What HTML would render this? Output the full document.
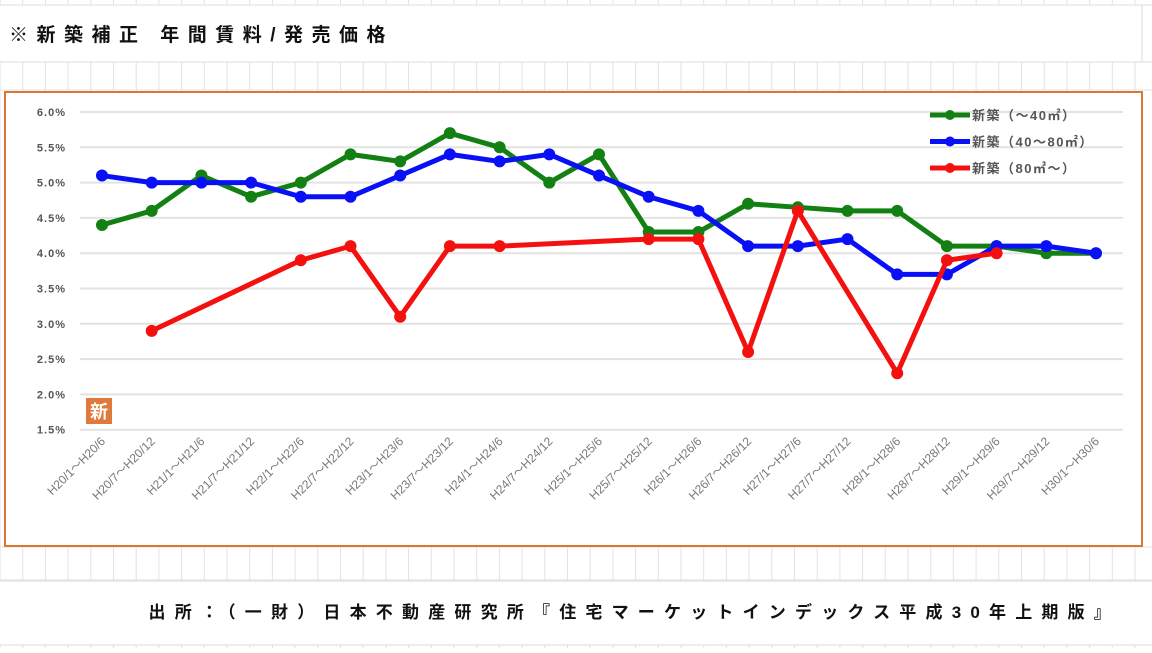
<!DOCTYPE html>
<html><head><meta charset="utf-8"><style>
body{margin:0;width:1152px;height:648px;overflow:hidden;background:#fff;font-family:"Liberation Sans","Noto Sans CJK JP",sans-serif}
</style></head><body>
<svg width="1152" height="648" xmlns="http://www.w3.org/2000/svg">
<g id="grid"></g>
<rect x="0" y="5" width="1152" height="57" fill="#fff"/>
<line x1="0" y1="5" x2="1152" y2="5" stroke="#ddd"/>
<line x1="0" y1="62" x2="1152" y2="62" stroke="#ddd"/>
<rect x="0" y="581" width="1152" height="64" fill="#fff"/>
<line x1="0" y1="581" x2="1152" y2="581" stroke="#ddd"/>
<line x1="0" y1="645" x2="1152" y2="645" stroke="#ddd"/>
<line x1="1142" y1="5" x2="1142" y2="62" stroke="#ddd"/>
<text x="9" y="41" font-size="19" font-weight="bold" fill="#111" letter-spacing="8.5">※新築補正 年間賃料/発売価格</text>
<text x="1120" y="618" text-anchor="end" font-size="17" font-weight="bold" fill="#111" letter-spacing="9.2">出所：（一財）日本不動産研究所『住宅マーケットインデックス平成30年上期版』</text>
<rect x="5" y="92" width="1137" height="454" fill="#fff" stroke="#d9782e" stroke-width="2"/>
<g id="plot"></g>
<rect x="86" y="398" width="26" height="26" fill="#e07a3c"/>
<text x="99" y="418" text-anchor="middle" font-size="18" font-weight="bold" fill="#fff">新</text>
<g id="legend"></g>
</svg>
<script>
const categories=["H20/1～H20/6","H20/7～H20/12","H21/1～H21/6","H21/7～H21/12","H22/1～H22/6","H22/7～H22/12","H23/1～H23/6","H23/7～H23/12","H24/1～H24/6","H24/7～H24/12","H25/1～H25/6","H25/7～H25/12","H26/1～H26/6","H26/7～H26/12","H27/1～H27/6","H27/7～H27/12","H28/1～H28/6","H28/7～H28/12","H29/1～H29/6","H29/7～H29/12","H30/1～H30/6"];
const seriesSmall=[4.4,4.6,5.1,4.8,5.0,5.4,5.3,5.7,5.5,5.0,5.4,4.3,4.3,4.7,4.65,4.6,4.6,4.1,4.1,4.0,4.0];
const seriesMid=[5.1,5.0,5.0,5.0,4.8,4.8,5.1,5.4,5.3,5.4,5.1,4.8,4.6,4.1,4.1,4.2,3.7,3.7,4.1,4.1,4.0];
const seriesLarge=[null,2.9,null,null,3.9,4.1,3.1,4.1,4.1,null,null,4.2,4.2,2.6,4.6,null,2.3,3.9,4.0,null,null];
const yTicks=[6.0,5.5,5.0,4.5,4.0,3.5,3.0,2.5,2.0,1.5];
const legendLabels=["新築（～40㎡）","新築（40～80㎡）","新築（80㎡～）"];
const NS="http://www.w3.org/2000/svg";
function mk(t,a,p){const e=document.createElementNS(NS,t);for(const k in a)e.setAttribute(k,a[k]);p.appendChild(e);return e;}
const grid=document.getElementById('grid');
for(let x=0;x<1152;x+=22.7){const l=mk('line',{x1:x,y1:0,x2:x,y2:648,stroke:'#e2e2e2'},grid);

}
[62,90,547,580].forEach(y=>{const l=mk('line',{x1:0,y1:y,x2:1152,y2:y,stroke:'#e2e2e2'},grid);

});
const X0=102,DX=(1096-102)/20;
const xs=i=>X0+i*DX;
const ys=v=>112+(6.0-v)/0.5*35.3;
const plot=document.getElementById('plot');
yTicks.forEach(v=>{const l=mk('line',{x1:80,y1:ys(v),x2:1123,y2:ys(v),stroke:'#e3e3e3','stroke-width':2},plot);


const t=mk('text',{x:66,y:ys(v)+4,'text-anchor':'end','font-size':11,'font-weight':'bold',fill:'#555','letter-spacing':1},plot);


t.textContent=v.toFixed(1)+'%';});
categories.forEach((c,i)=>{const t=mk('text',{x:xs(i)+4,y:442,'text-anchor':'end','font-size':12,fill:'#777',transform:`rotate(-45 ${xs(i)+4} 442)`},plot);


t.textContent=c;});
const colors=['#138013','#0a10f5','#f51010'];
[seriesSmall,seriesMid,seriesLarge].forEach((s,k)=>{
const pts=[];s.forEach((v,i)=>{if(v!=null)pts.push([xs(i),ys(v)]);});
const pl=mk('polyline',{points:pts.map(p=>p.join(',')).join(' '),fill:'none',stroke:colors[k],'stroke-width':5,'stroke-linejoin':'round'},plot);


pts.forEach(p=>{const c=mk('circle',{cx:p[0],cy:p[1],r:6,fill:colors[k]},plot);

});
});
const lg=document.getElementById('legend');
legendLabels.forEach((t,k)=>{const y=115+k*26.5;
const l=mk('line',{x1:930,y1:y,x2:970,y2:y,stroke:colors[k],'stroke-width':5},lg);


const c=mk('circle',{cx:950,cy:y,r:5,fill:colors[k]},lg);


const tx=mk('text',{x:972,y:y+5,'font-size':13,'font-weight':'bold',fill:'#555','letter-spacing':1.5},lg);


tx.textContent=t;});
</script>
</body></html>
